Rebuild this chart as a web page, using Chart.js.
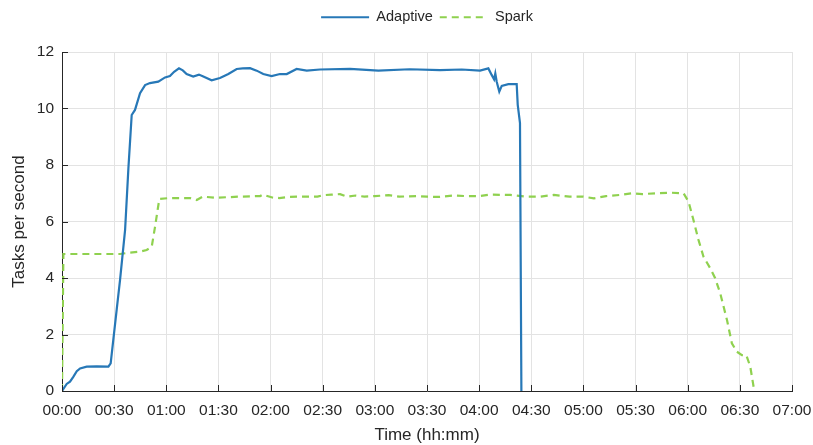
<!DOCTYPE html>
<html>
<head>
<meta charset="utf-8">
<script src="https://cdn.jsdelivr.net/npm/chart.js@4.4.1/dist/chart.umd.min.js"></script>
<style>
  html, body { margin: 0; padding: 0; background: #fff; }
  #wrap { width: 813px; height: 445px; }
</style>
</head>
<body>
<div id="wrap"><canvas id="myChart"></canvas></div>
<script>
// time in minutes since start, rate in tasks per second
let adaptiveTime = [0, 2.7, 4.6, 6.5, 8.5, 10.4, 14.2, 20, 26.7, 28,
    29.5, 31.5, 33.4, 36.3, 38.2, 40.1, 42, 44.9, 47.8, 50.6,
    55.4, 59.3, 62.1, 64.5, 67.3, 69.5, 71.7, 75.5, 78.8, 81.3,
    86.1, 90.9, 95.7, 100.5, 104, 108.2, 112, 115.8, 120.6, 125.4,
    129.3, 135, 140.8, 148.4, 165.7, 182, 200, 217.5, 230, 240.5,
    245.3, 247.2, 248.6, 249.3, 250.1, 251.6, 253, 256.8, 261.6, 262.2,
    263.5, 264.3];
let adaptiveRate = [0, 0.25, 0.33, 0.5, 0.7, 0.8, 0.86, 0.87, 0.86, 0.98,
    1.8, 2.9, 3.93, 5.7, 7.88, 9.77, 9.95, 10.54, 10.83, 10.9,
    10.95, 11.1, 11.15, 11.3, 11.42, 11.35, 11.22, 11.13, 11.2, 11.13,
    11.0, 11.08, 11.22, 11.4, 11.42, 11.43, 11.34, 11.22, 11.15, 11.22,
    11.22, 11.4, 11.34, 11.38, 11.4, 11.34, 11.39, 11.36, 11.38, 11.34,
    11.42, 11.19, 11.03, 11.24, 10.95, 10.6, 10.8, 10.86, 10.86, 10.13,
    9.48, 0];

let sparkTime = [0, 0.8, 20, 33.4, 39, 44.9, 48.7, 51.6, 53.5, 56,
    62, 73.6, 77.5, 81, 88, 102, 114, 115.5, 121, 125,
    131, 137, 147, 150, 155, 160, 164, 169, 174, 180,
    188, 194, 204, 210, 217, 225, 232, 240, 246, 258,
    267, 275, 283, 292, 300, 306, 313, 321, 328, 334,
    342, 350, 357.6, 360.5, 363.3, 366.2, 369.1, 373, 375.8, 378.7,
    382.6, 385.4, 388.3, 391.2, 393.7, 396, 397.9];
let sparkRate = [0, 4.85, 4.85, 4.85, 4.9, 4.93, 4.99, 5.1, 5.8, 6.8,
    6.83, 6.83, 6.76, 6.88, 6.84, 6.88, 6.9, 6.95, 6.85, 6.83,
    6.87, 6.88, 6.88, 6.93, 6.95, 6.97, 6.88, 6.92, 6.88, 6.9,
    6.93, 6.88, 6.9, 6.88, 6.87, 6.92, 6.9, 6.9, 6.95, 6.94,
    6.88, 6.88, 6.94, 6.88, 6.88, 6.82, 6.9, 6.94, 7.0, 6.97,
    7.0, 7.02, 7.0, 6.7, 6.05, 5.35, 4.75, 4.34, 3.99, 3.46,
    2.51, 1.69, 1.39, 1.27, 1.27, 0.86, 0.15];

let seriesNames = ['Adaptive', 'Spark'];
let xMin = 0, xMax = 420, xStep = 30;
let yMin = 0, yMax = 12, yStep = 2;

function toPoints(xs, ys) {
    let pts = [];
    for (let i = 0; i < xs.length; i++) {
        pts.push({ x: xs[i], y: ys[i] });
    }
    return pts;
}

function hhmm(v) {
    let h = Math.floor(v / 60);
    let m = Math.round(v % 60);
    return String(h).padStart(2, '0') + ':' + String(m).padStart(2, '0');
}

// matlab style inner tick marks
const innerTicks = {
    id: 'innerTicks',
    afterDatasetsDraw(chart) {
        const c = chart.ctx;
        const xs = chart.scales.x, ys = chart.scales.y;
        const a = chart.chartArea;
        c.save();
        c.strokeStyle = '#262626';
        c.lineWidth = 1;
        c.beginPath();
        xs.ticks.forEach(t => {
            let px = Math.round(xs.getPixelForValue(t.value)) + 0.5;
            c.moveTo(px, a.bottom);
            c.lineTo(px, a.bottom - 6);
        });
        ys.ticks.forEach(t => {
            let py = Math.round(ys.getPixelForValue(t.value)) + 0.5;
            c.moveTo(a.left, py);
            c.lineTo(a.left + 6, py);
        });
        c.stroke();
        c.restore();
    }
};

const legendHeight = {
    id: 'legendHeight',
    beforeInit(chart) {
        const fit = chart.legend.fit;
        chart.legend.fit = function () {
            fit.bind(chart.legend)();
            this.height = 49;
        };
    }
};

Chart.defaults.font.family = '"Liberation Sans", Arial, sans-serif';
Chart.defaults.color = '#262626';

var ctx = document.getElementById('myChart');
var chart = new Chart(ctx, {
    type: 'line',
    data: {
        datasets: [
            {
                label: seriesNames[0],
                data: toPoints(adaptiveTime, adaptiveRate),
                borderColor: '#2778b7',
                backgroundColor: '#2778b7',
                borderWidth: 2.2,
                pointRadius: 0,
                tension: 0,
                fill: false
            },
            {
                label: seriesNames[1],
                data: toPoints(sparkTime, sparkRate),
                borderColor: '#8fd14f',
                backgroundColor: '#8fd14f',
                borderWidth: 2.2,
                borderDash: [7, 5],
                pointRadius: 0,
                tension: 0,
                fill: false
            }
        ]
    },
    options: {
        responsive: true,
        maintainAspectRatio: false,
        animation: false,
        layout: { padding: { top: 3, right: 21, left: 0, bottom: 0 } },
        scales: {
            x: {
                type: 'linear',
                min: xMin,
                max: xMax,
                afterFit: (s) => { s.height = 54; s.paddingLeft = 0; s.paddingRight = 0; },
                ticks: {
                    stepSize: xStep,
                    padding: 10,
                    maxRotation: 0,
                    font: { size: 15.5 },
                    callback: (v) => hhmm(v)
                },
                grid: { color: '#e3e3e3', drawTicks: false },
                border: { color: '#262626', width: 1 },
                title: {
                    display: true,
                    text: 'Time (hh:mm)',
                    font: { size: 17 },
                    padding: { top: 0, bottom: -1 }
                }
            },
            y: {
                min: yMin,
                max: yMax,
                afterFit: (s) => { s.width = 62; },
                ticks: {
                    stepSize: yStep,
                    padding: 8,
                    font: { size: 15.5 }
                },
                grid: { color: '#e3e3e3', drawTicks: false },
                border: { color: '#262626', width: 1 },
                title: {
                    display: true,
                    text: 'Tasks per second',
                    font: { size: 17 },
                    padding: { top: 9, bottom: 0 }
                }
            }
        },
        plugins: {
            legend: {
                position: 'top',
                fullSize: false,
                labels: {
                    usePointStyle: true,
                    pointStyle: 'line',
                    pointStyleWidth: 48,
                    padding: 7,
                    font: { size: 14.5 },
                    color: '#262626',
                    generateLabels: (ch) => {
                        let items = Chart.defaults.plugins.legend.labels.generateLabels(ch);
                        items.forEach(it => {
                            let ds = ch.data.datasets[it.datasetIndex];
                            it.lineDash = ds.borderDash || [];
                            it.lineWidth = 2;
                            it.strokeStyle = ds.borderColor;
                        });
                        return items;
                    }
                }
            },
            tooltip: { enabled: false }
        }
    },
    plugins: [innerTicks, legendHeight]
});
</script>
</body>
</html>
